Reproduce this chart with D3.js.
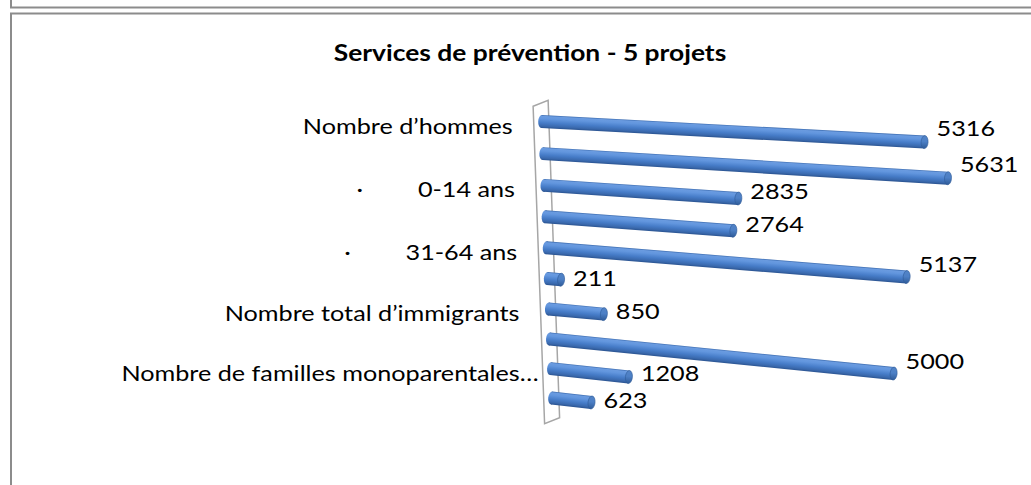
<!DOCTYPE html>
<html><head><meta charset="utf-8">
<script src="https://cdn.jsdelivr.net/npm/d3@7"></script>
<style>
html,body{margin:0;padding:0;background:#fff;}
svg{display:block;}
text{font-family:Lato,"Open Sans",sans-serif;fill:#000;}
</style>
</head><body>
<svg id="chart" width="1031" height="485"></svg>
<script>
// ---------- data ----------
const chartTitle = "Services de prévention - 5 projets";
const categories = [
  "Nombre d’hommes",
  "Nombre de femmes",
  "· 0-14 ans",
  "· 15-30 ans",
  "· 31-64 ans",
  "· 65 ans et plus",
  "Nombre total d’immigrants",
  "Nombre de nouveaux arrivants",
  "Nombre de familles monoparentales…",
  "Nombre de personnes handicapées"
];
const values = [5316, 5631, 2835, 2764, 5137, 211, 850, 5000, 1208, 623];
const valueDomain = [0, 6000];
const labelEvery = 2;   // every other category label is shown

// ---------- layout ----------
const W = 1031, H = 485;
const SX = 1.2;          // horizontal stretch of the picture's text
const svg = d3.select("#chart");

// projective (3D-perspective) mapping from unit square (u = value, t = category) to screen
const corners = { p00:[541.7,121.5], p10:[978.5,145], p11:[966,445], p01:[551.7,398] };
function makeHomography(c){
  const [x0,y0]=c.p00,[x1,y1]=c.p10,[x2,y2]=c.p11,[x3,y3]=c.p01;
  const dx1=x1-x2, dx2=x3-x2, dx3=x0-x1+x2-x3;
  const dy1=y1-y2, dy2=y3-y2, dy3=y0-y1+y2-y3;
  const den = dx1*dy2-dx2*dy1;
  const g=(dx3*dy2-dx2*dy3)/den, h=(dx1*dy3-dx3*dy1)/den;
  const a=x1-x0+g*x1, b=x3-x0+h*x3, cc=x0;
  const d=y1-y0+g*y1, e=y3-y0+h*y3, f=y0;
  return (u,t)=>{ const w=g*u+h*t+1; return [(a*u+b*t+cc)/w,(d*u+e*t+f)/w]; };
}
const proj = makeHomography(corners);

const x = d3.scaleLinear().domain(valueDomain).range([0,1]);
const y = d3.scalePoint().domain(categories).range([0,1]);
const step = y.step();

// ---------- frame ----------
svg.append("path").attr("d",`M11,0 V7.5 H${W}`).attr("fill","none").attr("stroke","#8c8c8c").attr("stroke-width",2);
svg.append("path").attr("d",`M11,${H} V13.5 H${W}`).attr("fill","none").attr("stroke","#8c8c8c").attr("stroke-width",2);

// ---------- gradient ----------
const defs = svg.append("defs");
const grad = defs.append("linearGradient").attr("id","cyl").attr("x1",0).attr("y1",0).attr("x2",0).attr("y2",1);
[[0,"#3c6cb0"],[0.1,"#6a9be0"],[0.28,"#6296de"],[0.6,"#467cc8"],[0.85,"#3a69ad"],[1,"#2a5390"]]
  .forEach(([o,c])=>grad.append("stop").attr("offset",o).attr("stop-color",c));
const capGrad = defs.append("linearGradient").attr("id","cap").attr("x1",0).attr("y1",0).attr("x2",0).attr("y2",1);
[[0,"#5283c6"],[0.45,"#4d80c6"],[1,"#2f5b98"]]
  .forEach(([o,c])=>capGrad.append("stop").attr("offset",o).attr("stop-color",c));

// stretched text helper
function sText(parent, px, py, str, anchor, opts={}){
  const g = parent.append("g").attr("transform",`translate(${px},${py}) scale(${opts.sx||SX},1)`);
  const t = g.append("text").attr("text-anchor",anchor).text(str)
    .attr("font-size",opts.size||21);
  if(opts.bold) t.attr("font-weight","bold");
  return t;
}

// ---------- title ----------
sText(svg, 530, 61, chartTitle, "middle", {size:22, bold:true, sx:1.2});

// ---------- wall ----------
const tTop = -0.5*step, tBot = 9.85*step;
const back = [-8, 1], front = [7, -5];
const wt = proj(0,tTop), wb = proj(0,tBot);
const wallPts = [
  [wt[0]+back[0], wt[1]+back[1]],
  [wt[0]+front[0], wt[1]+front[1]],
  [wb[0]+front[0], wb[1]+front[1]],
  [wb[0]+back[0], wb[1]+back[1]]
];
svg.append("path").attr("d","M"+wallPts.map(p=>p.join(",")).join("L")+"Z")
  .attr("fill","none").attr("stroke","#a6a6a6").attr("stroke-width",1.5);

// ---------- bars ----------
const R = 6.5;   // cylinder radius on screen
const barG = svg.append("g");
categories.forEach((cat,i)=>{
  const t = y(cat), v = values[i];
  const p0 = proj(0,t), p1 = proj(x(v),t);
  const ang = Math.atan2(p1[1]-p0[1], p1[0]-p0[0])*180/Math.PI;
  const len = Math.hypot(p1[0]-p0[0], p1[1]-p0[1]);
  const g = barG.append("g").attr("transform",`translate(${p0[0]},${p0[1]}) rotate(${ang})`);
  g.append("ellipse").attr("cx",0).attr("cy",0).attr("rx",3.5).attr("ry",R).attr("fill","url(#cyl)");
  g.append("rect").attr("x",0).attr("y",-R).attr("width",len).attr("height",2*R).attr("fill","url(#cyl)");
  g.append("ellipse").attr("cx",len).attr("cy",0).attr("rx",3.5).attr("ry",R)
    .attr("fill","url(#cap)").attr("stroke","#2f5b98").attr("stroke-width",0.6);

  // value label
  const dx = p1[0]-p0[0];
  const lx = p1[0] + 12, ly = p1[1] - 0.033*dx + 7;
  sText(svg, lx, ly, String(v), "start");

  // category label (every other)
  if(i % labelEvery === 0){
    const truncated = cat.endsWith("…");
    const ax = p0[0] - (truncated ? 12 : 29), ay = p0[1] + 12;
    if(cat.startsWith("· ")){
      const txt = sText(svg, ax, ay, cat.slice(2), "end");
      const wdt = txt.node().getComputedTextLength()*SX;
      sText(svg, ax - wdt - 58, ay, "·", "middle");
    } else {
      sText(svg, ax, ay, cat, "end");
    }
  }
});
</script>
</body></html>
